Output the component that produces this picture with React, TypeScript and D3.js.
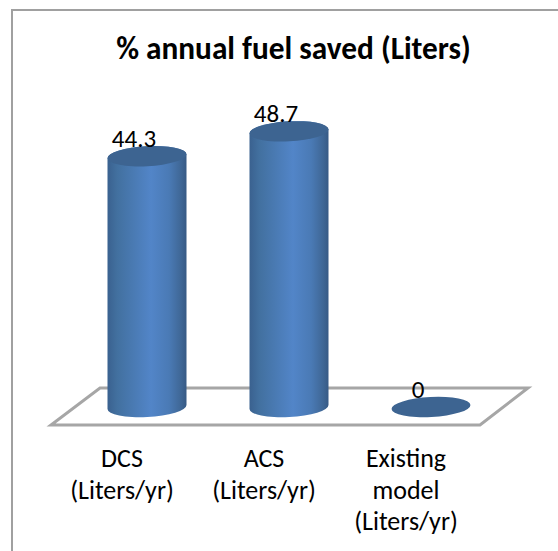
import React from "react";
import * as d3 from "d3";

const categories = ["DCS", "ACS", "Existing"];
const categoryLines = [
  ["DCS", "(Liters/yr)"],
  ["ACS", "(Liters/yr)"],
  ["Existing", "model", "(Liters/yr)"],
];
const values = [44.3, 48.7, 0];
const valueLabels = ["44.3", "48.7", "0"];
const title = "% annual fuel saved (Liters)";

const W = 558;
const H = 551;
const FONT = "Carlito, Calibri, 'Open Sans', 'Noto Sans', sans-serif";

// labels sit on the band centre, the bars are pushed back into the 3D floor
const x = d3.scaleBand<string>().domain(categories).range([51, 477]);
const depthShift = 25;
const y = d3.scaleLinear().domain([0, 50]).range([407, 124]);
const rx = 39.5;
const ry = 10;
const tilt = -3;

const floor = d3.line()([
  [51, 425],
  [480, 425],
  [528, 388],
  [100, 388],
]) + "Z";

const cylinderPath = (cx: number, top: number, base: number) =>
  `M${cx - rx},${top} L${cx - rx},${base + 2} A${rx},${ry} ${tilt} 0 0 ${cx + rx},${base - 2} L${cx + rx},${top - 4} A${rx},${ry} ${tilt} 0 0 ${cx - rx},${top} Z`;

export default function App() {
  return (
    <svg
      width={W}
      height={H}
      style={{ position: "absolute", left: 0, top: 0, background: "#fff" }}
      fontFamily={FONT}
    >
      <defs>
        <linearGradient id="cyl" x1="0" x2="1" y1="0" y2="0">
          <stop offset="0" stopColor="#3a618f" />
          <stop offset="0.12" stopColor="#42709f" />
          <stop offset="0.55" stopColor="#5285c8" />
          <stop offset="0.78" stopColor="#4a7ab5" />
          <stop offset="0.93" stopColor="#3f6796" />
          <stop offset="1" stopColor="#375a85" />
        </linearGradient>
      </defs>

      <path d="M12,551 L12,10 L558,10" fill="none" stroke="#a0a0a0" strokeWidth={2} />

      <text x={293.5} y={59} textAnchor="middle" fontSize={31.3} fontWeight={700} fill="#000">
        {title}
      </text>

      <path d={floor} fill="#fff" stroke="#a6a6a6" strokeWidth={3} />

      {categories.map((c, i) => {
        const cx = x(c)! + x.bandwidth() / 2 + depthShift;
        const top = y(values[i]);
        const base = y(0);
        return (
          <g key={c}>
            {values[i] > 0 && <path d={cylinderPath(cx, top + 2, base)} fill="url(#cyl)" />}
            <ellipse
              cx={cx}
              cy={top}
              rx={rx}
              ry={ry}
              fill="#3d6491"
              transform={`rotate(${tilt} ${cx} ${top})`}
            />
            <text x={cx - 13} y={top - 9} textAnchor="middle" fontSize={25} fill="#000">
              {valueLabels[i]}
            </text>
          </g>
        );
      })}

      {categories.map((c, i) => (
        <text key={c} textAnchor="middle" fontSize={26} fill="#000">
          {categoryLines[i].map((line, j) => (
            <tspan key={line} x={x(c)! + x.bandwidth() / 2} y={467 + j * 31.5}>
              {line}
            </tspan>
          ))}
        </text>
      ))}
    </svg>
  );
}
